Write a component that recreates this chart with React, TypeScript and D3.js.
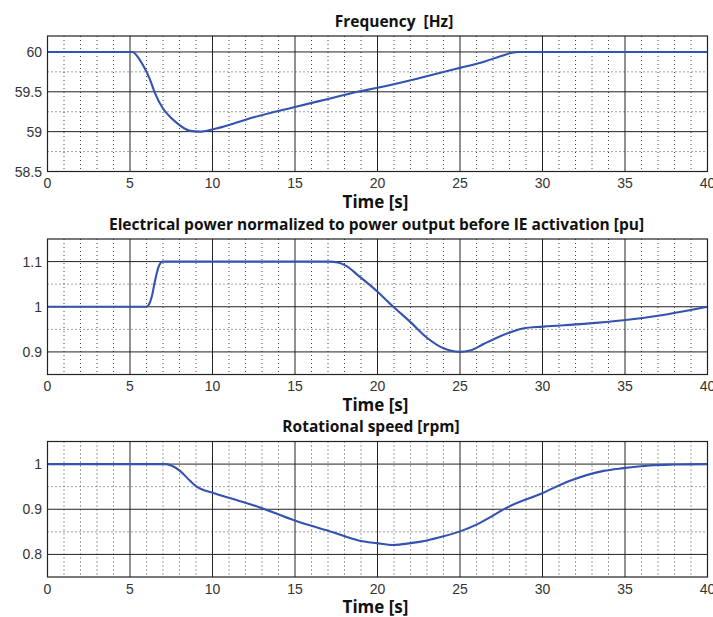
import React from "react";
import * as d3 from "d3";

const xTicks = [0, 5, 10, 15, 20, 25, 30, 35, 40];
const xMinor = [1, 2, 3, 4, 6, 7, 8, 9, 11, 12, 13, 14, 16, 17, 18, 19, 21, 22, 23, 24, 26, 27, 28, 29, 31, 32, 33, 34, 36, 37, 38, 39];

const freqT = [0, 5.15, 5.5, 5.8, 6.2, 6.52, 7.0, 7.5, 7.83, 8.3, 8.64, 9.2, 10.05, 11.26, 12.5, 15, 17, 18.8, 20, 22.5, 25, 26.5, 27.5, 28.5, 40];
const freqV = [60, 60, 59.93, 59.83, 59.66, 59.48, 59.29, 59.17, 59.11, 59.04, 59.01, 59.0, 59.03, 59.1, 59.18, 59.31, 59.41, 59.5, 59.55, 59.67, 59.8, 59.88, 59.95, 60, 60];
const freqTicks = [58.5, 59, 59.5, 60];
const freqMinor = [58.75, 59.25, 59.75];

const powerT = [0, 6.0, 6.15, 6.31, 6.52, 6.72, 6.96, 17.1, 17.6, 18.13, 18.84, 19.95, 20.96, 22, 22.98, 24.0, 24.4, 25, 25.6, 26.4, 27.2, 28.03, 28.8, 30.05, 32.5, 34.9, 37.5, 40];
const powerV = [1, 1, 1.005, 1.021, 1.058, 1.087, 1.1, 1.1, 1.098, 1.09, 1.069, 1.035, 1.0, 0.966, 0.932, 0.908, 0.903, 0.9, 0.903, 0.917, 0.931, 0.943, 0.952, 0.956, 0.962, 0.97, 0.983, 1.0];
const powerTicks = [0.9, 1, 1.1];
const powerMinor = [0.95, 1.05];

const speedT = [0, 7.1, 7.5, 8.03, 8.64, 9.04, 9.97, 11.5, 12.88, 14.98, 17.3, 18.84, 19.95, 20.96, 22, 23, 24, 25, 26, 27, 27.7, 29.95, 31.67, 33.7, 34.9, 36.5, 38, 40];
const speedV = [1, 1, 0.997, 0.985, 0.963, 0.95, 0.937, 0.92, 0.904, 0.875, 0.849, 0.831, 0.825, 0.821, 0.825, 0.831, 0.84, 0.851, 0.866, 0.886, 0.901, 0.935, 0.963, 0.985, 0.991, 0.997, 0.999, 1.0];
const speedTicks = [0.8, 0.9, 1];
const speedMinor = [0.85, 0.95];

const titles = [
  "Frequency  [Hz]",
  "Electrical power normalized to power output before IE activation [pu]",
  "Rotational speed [rpm]",
];
const xLabel = "Time [s]";

const W = 713;
const H = 617;
const left = 47.5;
const right = 707.5;
const plotH = 135.5;

const panels = [
  { top: 36, domain: [58.5, 60.2], T: freqT, V: freqV, ticks: freqTicks, minor: freqMinor, title: titles[0], titleX: 394, titleDy: -9.5 },
  { top: 239, domain: [0.85, 1.15], T: powerT, V: powerV, ticks: powerTicks, minor: powerMinor, title: titles[1], titleX: 376.5, titleDy: -9 },
  { top: 441.5, domain: [0.75, 1.05], T: speedT, V: speedV, ticks: speedTicks, minor: speedMinor, title: titles[2], titleX: 371, titleDy: -9.5 },
];

const x = d3.scaleLinear().domain([0, 40]).range([left, right]);

function Panel({ p }: { p: any }) {
  const y = d3.scaleLinear().domain(p.domain).range([p.top + plotH, p.top]);
  const line = d3
    .line<number>()
    .x((_, i) => x(p.T[i]))
    .y((d) => y(d))
    .curve(d3.curveMonotoneX);
  const bottom = p.top + plotH;
  return (
    <g>
      <rect x={left} y={p.top} width={right - left} height={plotH} fill="#fff" />
      {xMinor.map((t) => (
        <line key={"xm" + t} x1={x(t)} x2={x(t)} y1={p.top} y2={bottom} stroke="#444" strokeWidth={1} strokeDasharray="1,3" />
      ))}
      {p.minor.map((v: number) => (
        <line key={"ym" + v} x1={left} x2={right} y1={y(v)} y2={y(v)} stroke="#444" strokeWidth={1} strokeDasharray="1,3" />
      ))}
      {xTicks.map((t) => (
        <line key={"xg" + t} x1={x(t)} x2={x(t)} y1={p.top} y2={bottom} stroke="#222" strokeWidth={1} />
      ))}
      {p.ticks.map((v: number) => (
        <line key={"yg" + v} x1={left} x2={right} y1={y(v)} y2={y(v)} stroke="#222" strokeWidth={1} />
      ))}
      <path d={line(p.V) || ""} fill="none" stroke="#3452b0" strokeWidth={2.1} strokeLinejoin="round" />
      <rect x={left} y={p.top} width={right - left} height={plotH} fill="none" stroke="#222" strokeWidth={1.2} />
      {xTicks.map((t) => (
        <text key={"xl" + t} x={x(t)} y={bottom + 16.5} textAnchor="middle" fontFamily="Liberation Sans, Arial, sans-serif" fontSize={14} fill="#333">
          {t}
        </text>
      ))}
      {p.ticks.map((v: number) => (
        <text key={"yl" + v} x={left - 5.5} y={y(v)} dy="0.36em" textAnchor="end" fontFamily="Liberation Sans, Arial, sans-serif" fontSize={14} fill="#333">
          {v}
        </text>
      ))}
      <text x={p.titleX} y={p.top + p.titleDy} textAnchor="middle" fontFamily="Open Sans, sans-serif" fontWeight={700} fontSize={15.5} fill="#111" style={{ whiteSpace: "pre" }}>
        {p.title}
      </text>
      <text x={375.5} y={bottom + 36} textAnchor="middle" fontFamily="Open Sans, sans-serif" fontWeight={700} fontSize={17} fill="#111">
        {xLabel}
      </text>
    </g>
  );
}

export default function App() {
  return (
    <svg width={W} height={H} style={{ position: "absolute", left: 0, top: 0, background: "#fff" }}>
      <rect width={W} height={H} fill="#fff" />
      {panels.map((p, i) => (
        <Panel key={i} p={p} />
      ))}
    </svg>
  );
}
